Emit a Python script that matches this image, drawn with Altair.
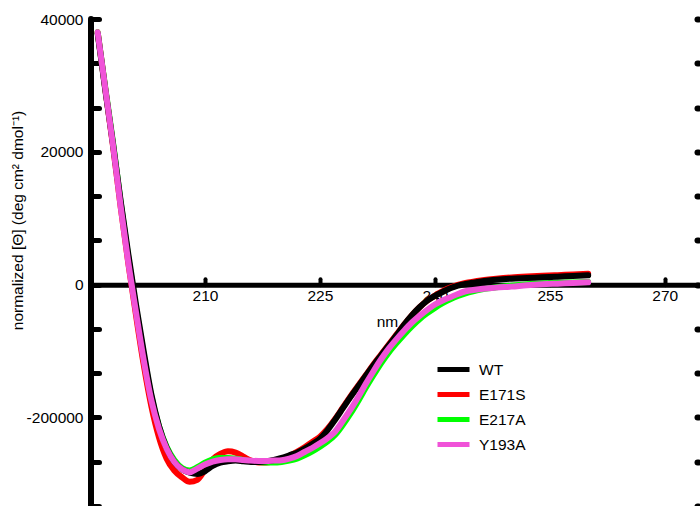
import altair as alt
import pandas as pd

# ---------------- data ----------------
WAVELENGTH = list(range(196, 249)) + [250, 252, 254, 256, 258, 260]

WT = [37800, 29300, 21200, 12600, 4600, -3000, -10000, -16500, -21300, -24600,
      -26700, -27800, -28300, -28500, -28100, -27300, -26800, -26600, -26500, -26600,
      -26700, -26700, -26600, -26400, -26100, -25700, -25300, -24700, -24000, -23200,
      -21900, -20300, -18600, -16900, -15300, -13700, -12100, -10600, -9100, -7600,
      -6000, -4600, -3400, -2400, -1700, -1100, -550, -150, 100, 300,
      480, 620, 740, 900, 1000, 1100, 1200, 1300, 1400]

E171S = [38000, 29400, 20900, 11700, 3200, -4600, -12000, -18300, -23000, -26200,
         -28000, -29000, -29700, -29400, -27900, -26300, -25500, -25100, -25300, -25900,
         -26500, -26800, -26800, -26600, -26300, -25800, -25200, -24500, -23700, -22900,
         -21700, -20200, -18500, -16800, -15200, -13600, -12000, -10500, -9000, -7500,
         -6000, -4600, -3400, -2400, -1650, -1000, -450, -50, 250, 450,
         620, 760, 880, 1080, 1220, 1330, 1430, 1530, 1630]

E217A = [38000, 29600, 21400, 12400, 4100, -3500, -10500, -16800, -21300, -24400,
         -26400, -27600, -28000, -27500, -26800, -26300, -26100, -26100, -26200, -26400,
         -26600, -26700, -26800, -26800, -26700, -26500, -26200, -25700, -25100, -24400,
         -23600, -22600, -21100, -19400, -17500, -15500, -13600, -11800, -10200, -8800,
         -7500, -6300, -5200, -4300, -3500, -2800, -2200, -1700, -1300, -1000,
         -750, -550, -400, -150, 50, 200, 280, 330, 380]

Y193A = [38000, 29500, 21000, 11800, 3300, -4150, -11300, -17400, -21700, -24700,
         -26700, -27800, -28250, -27700, -27100, -26650, -26400, -26300, -26300, -26400,
         -26500, -26550, -26550, -26500, -26450, -26200, -25800, -25200, -24600, -23900,
         -23100, -22100, -20500, -18800, -16900, -14900, -13000, -11200, -9600, -8200,
         -6900, -5700, -4700, -3800, -3000, -2400, -1900, -1400, -1000, -800,
         -650, -550, -450, -300, -100, 50, 150, 250, 350]

SERIES = ["WT", "E171S", "E217A", "Y193A"]
COLORS = ["#000000", "#ff0000", "#00ff00", "#f052d8"]
DRAW_ORDER = ["E171S", "E217A", "WT", "Y193A"]

X_DOMAIN = [195.13, 274.2]
Y_DOMAIN = [-33333.33, 40000]
X_TICKS = [210, 225, 240, 255, 270]
Y_TICKS = [40000, 33333.33, 26666.67, 20000, 13333.33, 6666.67, 0,
           -6666.67, -13333.33, -20000, -26666.67, -33333.33]
Y_LABELS = {40000: "40000", 20000: "20000", 0: "0", -20000: "-200000"}

X_TITLE = "nm"
Y_TITLE = "normalized [Θ] (deg cm² dmol⁻¹)"

FONT = "Liberation Sans"
FS = 15.5

# ---------------- table ----------------
values = {"WT": WT, "E171S": E171S, "E217A": E217A, "Y193A": Y193A}
rows = []
for s in DRAW_ORDER:
    for w, v in zip(WAVELENGTH, values[s]):
        rows.append({"nm": w, "value": v, "series": s})
df = pd.DataFrame(rows)

W, H = 606, 487
zero_px = H * Y_DOMAIN[1] / (Y_DOMAIN[1] - Y_DOMAIN[0])

label_expr = " : ".join(
    [f"abs(datum.value - ({k})) < 1 ? '{v}'" for k, v in Y_LABELS.items()]
) + " : ''"

xs = alt.Scale(domain=X_DOMAIN, nice=False, zero=False)
ys = alt.Scale(domain=Y_DOMAIN, nice=False, zero=False)

lines = alt.Chart(df).mark_line(
    strokeWidth=6, strokeCap="round", strokeJoin="round", interpolate="monotone"
).encode(
    x=alt.X("nm:Q", scale=xs, axis=alt.Axis(
        orient="bottom", offset=zero_px - H, values=X_TICKS, format="d",
        ticks=False, tickSize=0, domain=True, domainWidth=5, domainColor="black",
        domainCap="square", labelPadding=4, labelFontSize=FS, labelFont=FONT,
        labelColor="black", title=X_TITLE, titleX=296, titleY=37,
        titleBaseline="middle", titleAlign="center", titleFontSize=FS,
        titleFont=FONT, titleFontWeight="normal", titleColor="black",
        grid=False)),
    y=alt.Y("value:Q", scale=ys, axis=alt.Axis(
        orient="left", offset=-8, values=Y_TICKS, labelExpr=label_expr,
        labelOverlap=False, domain=False, ticks=True, tickSize=8, tickWidth=5,
        tickCap="round", tickColor="black", labelPadding=8, labelFontSize=FS,
        labelFont=FONT, labelColor="black", title=Y_TITLE, titleX=-82,
        titleY=201, titleAngle=-90, titleAlign="center", titleBaseline="middle",
        titleFontSize=FS, titleFont=FONT, titleFontWeight="normal",
        titleColor="black", grid=False)),
    color=alt.Color("series:N", scale=alt.Scale(domain=SERIES, range=COLORS),
                    legend=alt.Legend(
                        title=None, orient="none", legendX=352, legendY=340,
                        symbolType="M-2,0H2", symbolSize=256, symbolStrokeWidth=5,
                        labelOffset=15, rowPadding=4, padding=0,
                        labelFontSize=FS, labelFont=FONT, labelColor="black")),
    order=alt.value(0),
)

ticks_layer = alt.Chart(df).mark_point(opacity=0).encode(
    x=alt.X("nm:Q", scale=xs, axis=alt.Axis(
        orient="top", offset=-zero_px, values=X_TICKS, labels=False,
        domain=False, ticks=True, tickSize=6, tickWidth=4, tickCap="round",
        tickColor="black", title=None, grid=False)),
    y=alt.Y("value:Q", scale=ys, axis=alt.Axis(
        orient="right", values=Y_TICKS, labels=False, domain=False, ticks=True,
        tickSize=1, tickWidth=6, tickCap="round", tickColor="black",
        title=None, grid=False)),
)

yline = alt.Chart(pd.DataFrame({"nm": [X_DOMAIN[0]]})).mark_rule(
    strokeWidth=6, color="black", strokeCap="round"
).encode(x=alt.X("nm:Q", scale=xs, axis=None))

chart = alt.layer(ticks_layer, yline, lines).resolve_axis(
    x="independent", y="independent"
).properties(
    width=W, height=H,
    autosize=alt.AutoSizeParams(type="none"),
    padding={"left": 91, "top": 19, "right": 3, "bottom": 0},
).configure_view(stroke=None)

chart.save("out.html", embed_options={"renderer": "svg", "actions": False})
